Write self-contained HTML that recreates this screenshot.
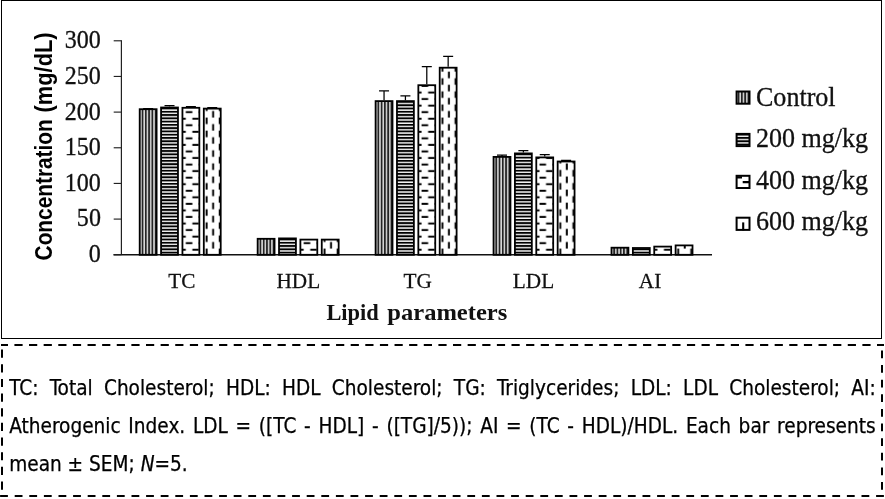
<!DOCTYPE html>
<html lang="en">
<head>
<meta charset="utf-8">
<title>Lipid parameters</title>
<style>
html,body{margin:0;padding:0;background:#fff;}
body{width:885px;height:499px;position:relative;overflow:hidden;font-family:"Liberation Sans",sans-serif;}
#chart{position:absolute;left:0;top:0;width:885px;height:499px;}
.tk{font-family:"Liberation Serif",serif;font-size:25px;fill:#111;stroke:#111;stroke-width:0.3px;}
.ct{font-family:"Liberation Serif",serif;font-size:22px;fill:#111;stroke:#111;stroke-width:0.25px;}
.lg{font-family:"Liberation Serif",serif;font-size:27px;fill:#111;stroke:#111;stroke-width:0.3px;}
.xt{font-family:"Liberation Serif",serif;font-size:24px;font-weight:bold;fill:#111;}
.yt{font-family:"Liberation Sans",sans-serif;font-size:24px;font-weight:bold;fill:#000;}
#cap{position:absolute;left:9.2px;top:369.8px;width:866.5px;font-family:"DejaVu Sans Condensed","DejaVu Sans","Liberation Sans",sans-serif;font-size:20.6px;line-height:37.9px;color:#000;text-align:justify;-webkit-text-stroke:0.25px #000;}
#cap div{text-align:justify;text-align-last:justify;white-space:nowrap;height:37.9px;}
#cap div.last{text-align-last:left;}
</style>
</head>
<body>
<svg id="chart" width="885" height="499" viewBox="0 0 885 499">
<defs>
<pattern id="p0" patternUnits="userSpaceOnUse" x="0.85" y="0" width="3.2750" height="13.1">
<rect width="3.2750" height="13.1" fill="#d8d8d8"/><rect x="0" y="0" width="1.75" height="13.1" fill="#242424"/>
</pattern>
<pattern id="p1" patternUnits="userSpaceOnUse" x="0" y="-0.5" width="13.1" height="3.2750">
<rect width="13.1" height="3.2750" fill="#f6f6f6"/><rect x="0" y="0" width="13.1" height="1.85" fill="#000"/>
</pattern>
<pattern id="p2" patternUnits="userSpaceOnUse" x="0" y="0" width="13.1" height="13.1">
<rect width="13.1" height="13.1" fill="#fff"/>
<rect x="2.4" y="6.381" width="6.550" height="1.938" fill="#000"/>
<rect x="8.950" y="12.931" width="6.550" height="1.938" fill="#000"/>
<rect x="8.950" y="-0.169" width="6.550" height="1.938" fill="#000"/>
<rect x="-4.150" y="-0.169" width="6.550" height="1.938" fill="#000"/>
<rect x="-4.150" y="12.931" width="6.550" height="1.938" fill="#000"/>
</pattern>
<pattern id="p3" patternUnits="userSpaceOnUse" x="0" y="0" width="13.1" height="13.1">
<rect width="13.1" height="13.1" fill="#fff"/>
<rect x="2.581" y="6.2" width="1.938" height="6.550" fill="#000"/>
<rect x="9.131" y="-0.350" width="1.938" height="6.550" fill="#000"/>
<rect x="9.131" y="12.750" width="1.938" height="6.550" fill="#000"/>
</pattern>
</defs>
<rect x="0" y="0" width="885" height="499" fill="#fff"/>
<rect x="1.5" y="0.5" width="880" height="338" fill="#fff" stroke="#000" stroke-width="1"/>
<!-- axes -->
<path d="M121.4 40.3V255" stroke="#222" stroke-width="1.2" fill="none"/>
<path d="M113.5 254.75H712" stroke="#111" stroke-width="1.35" fill="none"/>
<path d="M113.7 254.75H121.5" stroke="#222" stroke-width="1.15"/>
<text transform="translate(100.9,262.15) scale(0.962,1)" class="tk" text-anchor="end">0</text>
<path d="M113.7 219.09H121.5" stroke="#222" stroke-width="1.15"/>
<text transform="translate(100.9,226.49) scale(0.962,1)" class="tk" text-anchor="end">50</text>
<path d="M113.7 183.43H121.5" stroke="#222" stroke-width="1.15"/>
<text transform="translate(100.9,190.83) scale(0.962,1)" class="tk" text-anchor="end">100</text>
<path d="M113.7 147.77H121.5" stroke="#222" stroke-width="1.15"/>
<text transform="translate(100.9,155.17) scale(0.962,1)" class="tk" text-anchor="end">150</text>
<path d="M113.7 112.11H121.5" stroke="#222" stroke-width="1.15"/>
<text transform="translate(100.9,119.51) scale(0.962,1)" class="tk" text-anchor="end">200</text>
<path d="M113.7 76.45H121.5" stroke="#222" stroke-width="1.15"/>
<text transform="translate(100.9,83.85) scale(0.962,1)" class="tk" text-anchor="end">250</text>
<path d="M113.7 40.79H121.5" stroke="#222" stroke-width="1.15"/>
<text transform="translate(100.9,48.19) scale(0.962,1)" class="tk" text-anchor="end">300</text>
<path d="M148.15 108.30V108.50M143.15 108.50H153.15" stroke="#000" stroke-width="1.25" fill="none"/>
<rect x="139.70" y="109.20" width="16.90" height="145.60" fill="url(#p0)" stroke="#000" stroke-width="1.8"/>
<path d="M169.52 106.60V105.70M164.52 105.70H174.52" stroke="#000" stroke-width="1.25" fill="none"/>
<rect x="161.07" y="107.50" width="16.90" height="147.30" fill="url(#p1)" stroke="#000" stroke-width="1.8"/>
<path d="M190.89 106.90V106.60M185.89 106.60H195.89" stroke="#000" stroke-width="1.25" fill="none"/>
<rect x="182.44" y="107.80" width="16.90" height="147.00" fill="url(#p2)" stroke="#000" stroke-width="1.8"/>
<path d="M212.26 107.70V107.50M207.26 107.50H217.26" stroke="#000" stroke-width="1.25" fill="none"/>
<rect x="203.81" y="108.60" width="16.90" height="146.20" fill="url(#p3)" stroke="#000" stroke-width="1.8"/>
<rect x="257.65" y="238.80" width="16.90" height="16.00" fill="url(#p0)" stroke="#000" stroke-width="1.8"/>
<rect x="279.02" y="238.40" width="16.90" height="16.40" fill="url(#p1)" stroke="#000" stroke-width="1.8"/>
<rect x="300.39" y="239.60" width="16.90" height="15.20" fill="url(#p2)" stroke="#000" stroke-width="1.8"/>
<rect x="321.76" y="239.60" width="16.90" height="15.20" fill="url(#p3)" stroke="#000" stroke-width="1.8"/>
<path d="M384.05 100.20V90.80M379.05 90.80H389.05" stroke="#000" stroke-width="1.25" fill="none"/>
<rect x="375.60" y="101.10" width="16.90" height="153.70" fill="url(#p0)" stroke="#000" stroke-width="1.8"/>
<path d="M405.42 100.20V95.90M400.42 95.90H410.42" stroke="#000" stroke-width="1.25" fill="none"/>
<rect x="396.97" y="101.10" width="16.90" height="153.70" fill="url(#p1)" stroke="#000" stroke-width="1.8"/>
<path d="M426.79 84.30V66.60M421.79 66.60H431.79" stroke="#000" stroke-width="1.25" fill="none"/>
<rect x="418.34" y="85.20" width="16.90" height="169.60" fill="url(#p2)" stroke="#000" stroke-width="1.8"/>
<path d="M448.16 66.80V56.30M443.16 56.30H453.16" stroke="#000" stroke-width="1.25" fill="none"/>
<rect x="439.71" y="67.70" width="16.90" height="187.10" fill="url(#p3)" stroke="#000" stroke-width="1.8"/>
<path d="M502.00 156.00V155.20M497.00 155.20H507.00" stroke="#000" stroke-width="1.25" fill="none"/>
<rect x="493.55" y="156.90" width="16.90" height="97.90" fill="url(#p0)" stroke="#000" stroke-width="1.8"/>
<path d="M523.37 152.50V150.50M518.37 150.50H528.37" stroke="#000" stroke-width="1.25" fill="none"/>
<rect x="514.92" y="153.40" width="16.90" height="101.40" fill="url(#p1)" stroke="#000" stroke-width="1.8"/>
<path d="M544.74 156.50V154.70M539.74 154.70H549.74" stroke="#000" stroke-width="1.25" fill="none"/>
<rect x="536.29" y="157.40" width="16.90" height="97.40" fill="url(#p2)" stroke="#000" stroke-width="1.8"/>
<path d="M566.11 160.60V160.40M561.11 160.40H571.11" stroke="#000" stroke-width="1.25" fill="none"/>
<rect x="557.66" y="161.50" width="16.90" height="93.30" fill="url(#p3)" stroke="#000" stroke-width="1.8"/>
<rect x="611.50" y="247.70" width="16.90" height="7.10" fill="url(#p0)" stroke="#000" stroke-width="1.8"/>
<rect x="632.87" y="248.00" width="16.90" height="6.80" fill="url(#p1)" stroke="#000" stroke-width="1.8"/>
<rect x="654.24" y="246.60" width="16.90" height="8.20" fill="url(#p2)" stroke="#000" stroke-width="1.8"/>
<rect x="675.61" y="245.40" width="16.90" height="9.40" fill="url(#p3)" stroke="#000" stroke-width="1.8"/>
<text transform="translate(181.80,288.3) scale(0.968,1)" class="ct" text-anchor="middle">TC</text>
<text transform="translate(298.35,288.3) scale(0.968,1)" class="ct" text-anchor="middle">HDL</text>
<text transform="translate(417.70,288.3) scale(0.968,1)" class="ct" text-anchor="middle">TG</text>
<text transform="translate(533.45,288.3) scale(0.968,1)" class="ct" text-anchor="middle">LDL</text>
<text transform="translate(650.00,288.3) scale(0.968,1)" class="ct" text-anchor="middle">AI</text>
<text y="319.8" class="xt"><tspan x="326.4" textLength="52.4" lengthAdjust="spacingAndGlyphs">Lipid</tspan> <tspan x="387.3" textLength="120" lengthAdjust="spacingAndGlyphs">parameters</tspan></text>
<text transform="translate(51.5,260.4) rotate(-90)" class="yt"><tspan x="0" textLength="141.2" lengthAdjust="spacingAndGlyphs">Concentration</tspan> <tspan x="148" textLength="80" lengthAdjust="spacingAndGlyphs">(mg/dL)</tspan></text>
<rect x="736.60" y="91.50" width="12.90" height="12.20" fill="url(#p0)" stroke="#000" stroke-width="2.0"/>
<text transform="translate(756,106.0) scale(0.965,1)" class="lg">Control</text>
<rect x="736.60" y="133.90" width="12.90" height="12.20" fill="url(#p1)" stroke="#000" stroke-width="2.0"/>
<text transform="translate(756,146.8) scale(0.965,1)" class="lg">200 mg/kg</text>
<rect x="736.60" y="175.80" width="12.90" height="12.20" fill="#fff" stroke="#000" stroke-width="2.0"/>
<path d="M742.7 182.10H750M736.5 177.40H742" stroke="#000" stroke-width="2.1" fill="none"/>
<text transform="translate(756,188.6) scale(0.965,1)" class="lg">400 mg/kg</text>
<rect x="736.60" y="217.70" width="12.90" height="12.20" fill="#fff" stroke="#000" stroke-width="2.0"/>
<path d="M743.2 222.40V230.40" stroke="#000" stroke-width="2.1" fill="none"/>
<text transform="translate(756,229.9) scale(0.965,1)" class="lg">600 mg/kg</text>
<!-- dashed caption box -->
<g stroke="#000" stroke-width="2" fill="none">
<path d="M1 345H884" stroke-dasharray="8.2 6.42" stroke-dashoffset="1.2"/>
<path d="M882 350.4V497" stroke-dasharray="7.8 6.83"/>
<path d="M0.1 496H884" stroke-dasharray="7.8 6.8"/>
<path d="M2 349.6V497" stroke-dasharray="8.2 6.45"/>
</g>
</svg>
<div id="cap">
<div>TC: Total Cholesterol; HDL: HDL Cholesterol; TG: Triglycerides; LDL: LDL Cholesterol; AI:</div>
<div>Atherogenic Index. LDL = ([TC - HDL] - ([TG]/5)); AI = (TC - HDL)/HDL. Each bar represents</div>
<div class="last">mean ± SEM; <i>N</i>=5.</div>
</div>
</body>
</html>
